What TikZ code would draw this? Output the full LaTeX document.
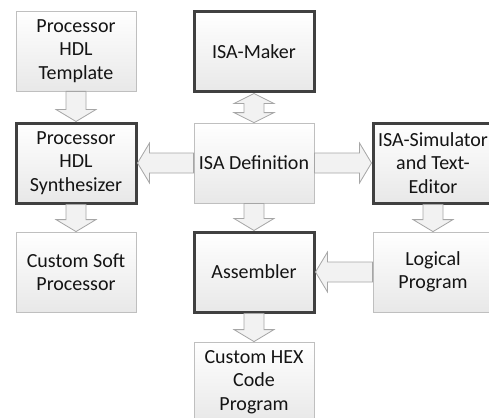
\documentclass[tikz,border=0pt]{standalone}
\usepackage{fontspec}
\setmainfont{Carlito}
\usepackage{tikz}
\usetikzlibrary{calc}
\definecolor{boxline}{HTML}{BFBFBF}
\definecolor{boxdark}{HTML}{404040}
\definecolor{arrowline}{HTML}{A6A6A6}
\definecolor{arrowfill}{HTML}{F2F2F2}
\definecolor{textcol}{HTML}{141414}
\tikzset{
    box/.style={draw=boxline, line width=0.8pt, top color=white, bottom color=black!9,
        minimum width=120pt, minimum height=80pt, inner sep=0pt, align=center,
        text=textcol, font=\fontsize{20}{23.5}\selectfont},
    thickbox/.style={box, draw=boxdark, line width=3pt},
    blockarrow/.style={draw=arrowline, fill=arrowfill, line width=0.8pt, line join=miter}}
% block arrow from #1 to the tip #2
\newcommand{\blockarrow}[2]{%
  \coordinate (hb) at ($(#2)!12pt!(#1)$);
  \draw[blockarrow] ($(#1)!10pt!90:(#2)$) -- ($(hb)!10pt!90:(#2)$) -- ($(hb)!20pt!90:(#2)$)
    -- (#2) -- ($(hb)!20pt!-90:(#2)$) -- ($(hb)!10pt!-90:(#2)$) -- ($(#1)!10pt!-90:(#2)$) -- cycle;}
% block arrow with two heads
\newcommand{\dblockarrow}[2]{%
  \coordinate (ha) at ($(#1)!10pt!(#2)$);
  \coordinate (hb) at ($(#2)!10pt!(#1)$);
  \draw[blockarrow] (#1) -- ($(ha)!20pt!90:(#2)$) -- ($(ha)!10pt!90:(#2)$) -- ($(hb)!10pt!90:(#2)$)
    -- ($(hb)!20pt!90:(#2)$) -- (#2) -- ($(hb)!20pt!-90:(#2)$) -- ($(hb)!10pt!-90:(#2)$)
    -- ($(ha)!10pt!-90:(#2)$) -- ($(ha)!20pt!-90:(#2)$) -- cycle;}
\begin{document}
\begin{tikzpicture}[x=1pt, y=-1pt]
\useasboundingbox (0,0) rectangle (489,417);

\node[box] (tmpl) at (76,51) {Processor\\HDL\\Template};
\node[thickbox] (maker) at (254,52) {ISA-Maker};
\node[thickbox] (synth) at (76,163) {Processor\\HDL\\Synthesizer};
\node[box] (isadef) at (254,163) {ISA Definition};
\node[thickbox] (sim) at (433,163) {ISA-Simulator\\and Text-\\Editor};
\node[box] (soft) at (76,272) {Custom Soft\\Processor};
\node[thickbox] (asm) at (254,272) {Assembler};
\node[box] (logic) at (433,272) {Logical\\Program};
\node[box] (hex) at (254,382) {Custom HEX\\Code\\Program};

\blockarrow{tmpl.south}{synth.north}
\dblockarrow{maker.south}{isadef.north}
\blockarrow{isadef.west}{synth.east}
\blockarrow{isadef.east}{sim.west}
\blockarrow{isadef.south}{asm.north}
\blockarrow{synth.south}{soft.north}
\blockarrow{sim.south}{logic.north}
\blockarrow{logic.west}{asm.east}
\blockarrow{asm.south}{hex.north}
\end{tikzpicture}
\end{document}
